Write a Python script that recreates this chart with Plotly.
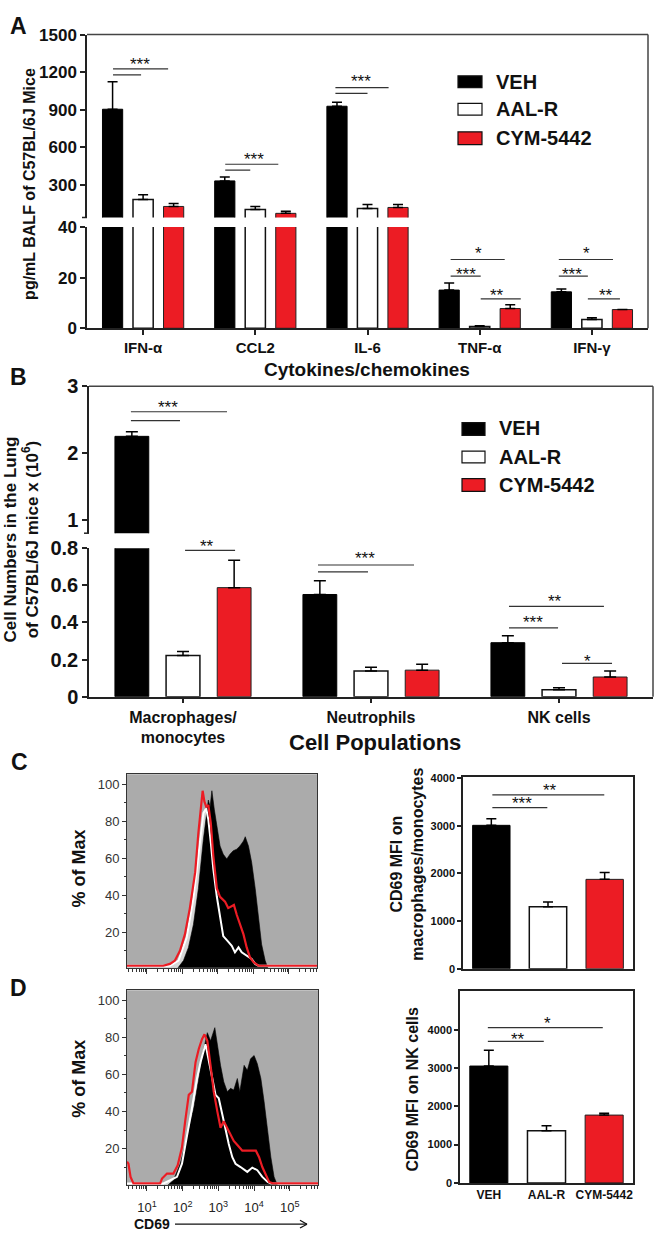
import plotly.graph_objects as go

W, H = 658, 1244
FONT = "Liberation Sans, Arial, Helvetica, sans-serif"

# ---------------- data ----------------
groups = ["VEH", "AAL-R", "CYM-5442"]

# Panel A: cytokines (pg/mL BALF)
cyto_labels = ["IFN-α", "CCL2", "IL-6", "TNF-α", "IFN-γ"]
cyto_veh = [904, 332, 928, 15.1, 14.4]
cyto_veh_sem = [220, 31, 31, 2.8, 1.1]
cyto_aal = [183, 104, 112, 0.7, 3.5]
cyto_aal_sem = [39, 24, 31, 0.3, 0.7]
cyto_cym = [128, 73, 120, 7.8, 7.4]
cyto_cym_sem = [23, 16, 23, 1.5, 0.0]

# Panel B: cell numbers (x10^6)
cell_labels = ["Macrophages/<br>monocytes", "Neutrophils", "NK cells"]
cell_veh = [2.25, 0.551, 0.291]
cell_veh_sem = [0.07, 0.074, 0.037]
cell_aal = [0.222, 0.138, 0.037]
cell_aal_sem = [0.022, 0.021, 0.011]
cell_cym = [0.588, 0.143, 0.106]
cell_cym_sem = [0.148, 0.032, 0.032]

# Panel C/D bar charts: CD69 MFI
mfi_mac = [3010, 1300, 1876]
mfi_mac_sem = [140, 100, 144]
mfi_nk = [3050, 1360, 1770]
mfi_nk_sem = [410, 130, 50]

# Panel C histogram (macrophages/monocytes): log10 CD69 vs % of max
c_veh_log = [0.44, 1.84, 2.03, 2.17, 2.31, 2.45, 2.59, 2.67, 2.73, 2.78, 2.83, 2.90, 2.98, 3.06, 3.15,
             3.25, 3.34, 3.43, 3.53, 3.62, 3.72, 3.77, 3.86, 3.95, 4.05, 4.14, 4.23, 4.33, 4.42, 5.79]
c_veh_pct = [0, 0, 4.8, 11.9, 24.2, 43.7, 70.2, 80.8, 91.4, 87.8, 96.4, 86.1, 76.3, 66.6, 62.2,
             59.6, 62.2, 64.0, 64.9, 66.6, 69.3, 71.6, 66.6, 57.8, 43.7, 27.8, 13.6, 4.8, 0, 0]
c_aal_log = [0.44, 1.65, 1.89, 2.12, 2.31, 2.50, 2.59, 2.67, 2.73, 2.80, 2.87, 2.97, 3.06, 3.15,
             3.27, 3.39, 3.48, 3.58, 3.67, 3.81, 3.95, 4.05, 4.14, 5.79]
c_aal_pct = [2, 2, 4.8, 17.2, 38.4, 70.2, 84.3, 86.9, 80.8, 68.4, 54.3, 39.2, 27.8, 18.0,
             15.4, 12.7, 9.2, 11.9, 9.2, 7.5, 5.7, 3.0, 2, 2]
c_cym_log = [0.44, 1.46, 1.65, 1.79, 1.93, 2.07, 2.21, 2.36, 2.45, 2.52, 2.57, 2.62, 2.67, 2.73, 2.80,
             2.87, 2.97, 3.06, 3.20, 3.29, 3.39, 3.45, 3.53, 3.62, 3.72, 3.81, 3.90, 4.00, 4.14, 5.79]
c_cym_pct = [2, 2, 3.0, 4.8, 10.1, 18.9, 33.1, 52.5, 73.7, 89.6, 96.4, 90.5, 87.8, 88.7, 79.0,
             61.3, 43.7, 39.2, 36.6, 33.1, 33.9, 34.8, 29.5, 24.2, 18.9, 11.9, 6.6, 4.0, 2, 2]

# Panel D histogram (NK cells)
d_veh_log = [0.44, 1.56, 1.74, 1.93, 2.12, 2.31, 2.45, 2.59, 2.69, 2.78, 2.90, 2.97, 3.06, 3.15, 3.25, 3.34,
             3.43, 3.53, 3.60, 3.72, 3.81, 3.90, 4.00, 4.09, 4.19, 4.28, 4.38, 4.47, 4.56, 4.66, 5.79]
d_veh_pct = [0, 0, 3.0, 11.9, 26.0, 41.9, 57.8, 73.7, 82.5, 78.1, 85.2, 75.5, 64.9, 56.0, 50.7, 52.5,
             51.6, 57.8, 50.7, 64.9, 62.2, 68.4, 70.2, 65.8, 57.8, 45.4, 29.5, 15.4, 4.8, 0, 0]
d_aal_log = [0.44, 1.46, 1.65, 1.84, 1.98, 2.12, 2.26, 2.40, 2.50, 2.64, 2.73, 2.83, 2.92, 3.01,
             3.11, 3.20, 3.29, 3.39, 3.48, 3.62, 3.81, 3.95, 4.09, 4.23, 4.38, 4.47, 5.79]
d_aal_pct = [1.3, 1.3, 3.0, 4.8, 11.9, 26.0, 41.9, 57.8, 66.6, 76.3, 68.4, 57.8, 49.0, 47.2,
             38.4, 29.5, 22.5, 15.4, 11.9, 10.1, 7.5, 9.8, 8.4, 4.8, 2.1, 1.3, 1.3]
d_cym_log = [0.44, 0.48, 0.54, 0.62, 1.37, 1.42, 1.56, 1.74, 1.86, 1.98, 2.07, 2.17, 2.26, 2.36, 2.45,
             2.54, 2.61, 2.69, 2.78, 2.87, 2.97, 3.06, 3.15, 3.25, 3.34, 3.43, 3.55, 3.67, 4.05, 4.14,
             4.23, 4.33, 4.42, 4.52, 5.79]
d_cym_pct = [13, 11.9, 4.8, 1.3, 1.3, 3.9, 6.6, 6.6, 11.0, 20.7, 34.8, 49.0, 50.7, 66.6, 73.7,
             79.0, 81.6, 78.1, 64.9, 50.7, 40.1, 31.3, 34.8, 31.3, 27.8, 24.2, 21.6, 18.9, 18.9, 15.4,
             10.1, 5.7, 2.1, 1.3, 1.3]

hist_ticks = [10, 100, 1000, 10000, 100000]
hist_ticktext = ["10<sup>1</sup>", "10<sup>2</sup>", "10<sup>3</sup>", "10<sup>4</sup>", "10<sup>5</sup>"]

# ---------------- style ----------------
FILL = ["#000000", "#ffffff", "#ec1c24"]
EDGE = ["#000000", "#111111", "#222222"]
EW = [1, 1.5, 1]
OFF = [-0.272, 0.0, 0.272]
AX = "#222222"
RED = "#ec1c24"
GRAYBG = "#ababab"


def px(x):
    return x / W


def py(y):
    return 1 - y / H


fig = go.Figure()


def add_group_bars(xa, ya, n, series, width, err_w):
    for k, (vals, sems) in enumerate(series):
        fig.add_trace(go.Bar(
            x=[i + OFF[k] for i in range(n)], y=vals, width=width,
            xaxis=xa, yaxis=ya,
            marker=dict(color=FILL[k], line=dict(color=EDGE[k], width=EW[k])),
            error_y=dict(type="data", symmetric=False, array=sems, arrayminus=[0] * n,
                         color="#000", thickness=1.5, width=err_w),
            showlegend=False, hoverinfo="skip"))


# Panel A (lower and upper segments)
seriesA = [(cyto_veh, cyto_veh_sem), (cyto_aal, cyto_aal_sem), (cyto_cym, cyto_cym_sem)]
add_group_bars("x", "y", len(cyto_labels), seriesA, 0.18, 5)
add_group_bars("x", "y2", len(cyto_labels), seriesA, 0.18, 5)

# Panel B
seriesB = [(cell_veh, cell_veh_sem), (cell_aal, cell_aal_sem), (cell_cym, cell_cym_sem)]
add_group_bars("x2", "y3", len(cell_labels), seriesB, 0.18, 6)
add_group_bars("x2", "y4", len(cell_labels), seriesB, 0.18, 6)


def add_mfi(xa, ya, vals, sems):
    for k in range(3):
        fig.add_trace(go.Bar(
            x=[k], y=[vals[k]], width=0.66, xaxis=xa, yaxis=ya,
            marker=dict(color=FILL[k], line=dict(color=EDGE[k], width=EW[k])),
            error_y=dict(type="data", symmetric=False, array=[sems[k]], arrayminus=[0],
                         color="#000", thickness=1.5, width=5),
            showlegend=False, hoverinfo="skip"))


add_mfi("x4", "y6", mfi_mac, mfi_mac_sem)
add_mfi("x6", "y8", mfi_nk, mfi_nk_sem)


def add_hist(xa, ya, veh_l, veh_p, aal_l, aal_p, cym_l, cym_p):
    aal_x = [10 ** v for v in aal_l]
    fig.add_trace(go.Scatter(x=aal_x, y=aal_p, xaxis=xa, yaxis=ya, mode="lines",
                             fill="tozeroy", fillcolor="#d6d6d6", line=dict(width=0, color="#d6d6d6"),
                             showlegend=False, hoverinfo="skip"))
    fig.add_trace(go.Scatter(x=[10 ** v for v in veh_l], y=veh_p, xaxis=xa, yaxis=ya, mode="lines",
                             fill="tozeroy", fillcolor="#000000", line=dict(width=0.6, color="#000000"),
                             showlegend=False, hoverinfo="skip"))
    fig.add_trace(go.Scatter(x=aal_x, y=aal_p, xaxis=xa, yaxis=ya, mode="lines",
                             line=dict(width=2, color="#ffffff"), showlegend=False, hoverinfo="skip"))
    fig.add_trace(go.Scatter(x=[10 ** v for v in cym_l], y=cym_p, xaxis=xa, yaxis=ya, mode="lines",
                             line=dict(width=2.2, color=RED), showlegend=False, hoverinfo="skip"))


add_hist("x3", "y5", c_veh_log, c_veh_pct, c_aal_log, c_aal_pct, c_cym_log, c_cym_pct)
add_hist("x5", "y7", d_veh_log, d_veh_pct, d_aal_log, d_aal_pct, d_cym_log, d_cym_pct)

# ---------------- axes ----------------
def tf(size, bold=True, color="#111111"):
    d = dict(family=FONT, size=size, color=color)
    if bold:
        d["weight"] = "bold"
    return d


base_ax = dict(showgrid=False, zeroline=False, showline=True, linecolor=AX, linewidth=1.5,
               ticks="outside", tickcolor=AX, tickwidth=1.5, ticklen=5)
minor_log = [k * 10 ** d for d in range(0, 6) for k in range(2, 10)]

layout_axes = dict(
    xaxis=dict(base_ax, domain=[px(87), px(648)], range=[-0.5, 4.5], anchor="y",
               tickmode="array", tickvals=list(range(len(cyto_labels))), ticktext=cyto_labels,
               tickfont=tf(15)),
    yaxis=dict(base_ax, domain=[py(323), py(220)], range=[0, 40], anchor="x",
               tickmode="array", tickvals=[0, 20, 40], tickfont=tf(17)),
    yaxis2=dict(base_ax, domain=[py(210.2), py(24)], range=[40, 1500], anchor="x",
                tickmode="array", tickvals=[300, 600, 900, 1200, 1500], tickfont=tf(17)),
    xaxis2=dict(base_ax, domain=[px(89), px(653)], range=[-0.5, 2.5], anchor="y3",
                tickmode="array", tickvals=list(range(len(cell_labels))), ticktext=cell_labels,
                tickfont=tf(16)),
    yaxis3=dict(base_ax, domain=[py(698), py(547)], range=[0, 0.8], anchor="x2",
                tickmode="array", tickvals=[0, 0.2, 0.4, 0.6, 0.8],
                ticktext=["0", "0.2", "0.4", "0.6", "0.8"], tickfont=tf(20)),
    yaxis4=dict(base_ax, domain=[py(531.6), py(382)], range=[0.8, 3], anchor="x2",
                tickmode="array", tickvals=[1, 2, 3], tickfont=tf(20)),
    xaxis3=dict(showgrid=False, zeroline=False, showline=True, linecolor="#333", linewidth=1,
                mirror=True, type="log", range=[0.44, 5.79], anchor="y5",
                domain=[px(127), px(317)], ticks="outside", ticklen=5, tickwidth=1, tickcolor="#333",
                tickmode="array", tickvals=hist_ticks, showticklabels=False,
                minor=dict(ticks="outside", ticklen=3, tickwidth=1, tickcolor="#333",
                           tickmode="array", tickvals=minor_log)),
    yaxis5=dict(showgrid=False, zeroline=False, showline=True, linecolor="#333", linewidth=1,
                mirror=True, range=[0.9, 105.3], anchor="x3", domain=[py(974), py(777)],
                ticks="outside", ticklen=4, tickwidth=1, tickcolor="#333",
                tickmode="array", tickvals=[20, 40, 60, 80, 100], tickfont=tf(13, False, "#333"),
                minor=dict(ticks="outside", ticklen=2, tickwidth=1, tickcolor="#333", dtick=10)),
    xaxis4=dict(showgrid=False, zeroline=False, showline=True, linecolor=AX, linewidth=1.5,
                mirror=True, range=[-0.5, 2.5], anchor="y6", domain=[px(463), px(633)],
                ticks="", showticklabels=False),
    yaxis6=dict(base_ax, mirror=True, range=[0, 4020], anchor="x4", domain=[py(975), py(780)],
                ticklen=4, tickmode="array", tickvals=[0, 1000, 2000, 3000, 4000], tickfont=tf(11)),
    xaxis5=dict(showgrid=False, zeroline=False, showline=True, linecolor="#333", linewidth=1,
                mirror=True, type="log", range=[0.44, 5.79], anchor="y7",
                domain=[px(127), px(318)], ticks="outside", ticklen=5, tickwidth=1, tickcolor="#333",
                tickmode="array", tickvals=hist_ticks, ticktext=hist_ticktext,
                tickfont=tf(13, False, "#222"), ticklabelstandoff=6,
                minor=dict(ticks="outside", ticklen=3, tickwidth=1, tickcolor="#333",
                           tickmode="array", tickvals=minor_log)),
    yaxis7=dict(showgrid=False, zeroline=False, showline=True, linecolor="#333", linewidth=1,
                mirror=True, range=[0.5, 105.3], anchor="x5", domain=[py(1195), py(997)],
                ticks="outside", ticklen=4, tickwidth=1, tickcolor="#333",
                tickmode="array", tickvals=[20, 40, 60, 80, 100], tickfont=tf(13, False, "#333"),
                minor=dict(ticks="outside", ticklen=2, tickwidth=1, tickcolor="#333", dtick=10)),
    xaxis6=dict(showgrid=False, zeroline=False, showline=True, linecolor=AX, linewidth=1.5,
                mirror=True, range=[-0.5, 2.5], anchor="y8", domain=[px(460), px(633)],
                ticks="", tickmode="array", tickvals=[0, 1, 2], ticktext=groups, tickfont=tf(12)),
    yaxis8=dict(base_ax, mirror=True, range=[0, 5000], anchor="x6", domain=[py(1193), py(998)],
                ticklen=4, tickmode="array", tickvals=[0, 1000, 2000, 3000, 4000], tickfont=tf(11)),
)

shapes = []
annotations = []


def pline(x0, y0, x1, y1, color="#222", width=1.5):
    shapes.append(dict(type="line", xref="paper", yref="paper", x0=px(x0), x1=px(x1), y0=py(y0), y1=py(y1),
                       line=dict(color=color, width=width)))


# gray histogram backgrounds
for xr, yr in (("x3", "y5"), ("x5", "y7")):
    shapes.append(dict(type="rect", xref=xr + " domain", yref=yr + " domain", x0=0, x1=1, y0=0, y1=1,
                       fillcolor=GRAYBG, line=dict(width=0), layer="below"))

# frame lines (top/right) for A and B
for (x0, x1, yt, yb) in ((87, 648, 24, 323), (89, 653, 382, 698)):
    pline(x0, yt, x1, yt, "#444")
    pline(x1, yt, x1, yb, "#444")

# end ticks of the broken axis segments
pline(82, 210.2, 87, 210.2)
pline(84, 531.6, 89, 531.6)


def bracket(xr, yr, x0, x1, y):
    shapes.append(dict(type="line", xref=xr, yref=yr, x0=x0, x1=x1, y0=y, y1=y,
                       line=dict(color="#333", width=1.2)))


def star(xr, yr, x, y, t, shift=-4):
    annotations.append(dict(xref=xr, yref=yr, x=x, y=y, text=t, showarrow=False,
                            font=dict(family=FONT, size=17, color="#111"), yshift=shift))


# Panel A brackets
bracket("x", "y2", -0.268, -0.018, 1178); bracket("x", "y2", -0.268, 0.223, 1226); star("x", "y2", -0.027, 1296, "***")
bracket("x", "y2", 0.732, 0.955, 418); bracket("x", "y2", 0.732, 1.205, 465); star("x", "y2", 0.991, 535, "***")
bracket("x", "y2", 1.714, 2.0, 1030); bracket("x", "y2", 1.714, 2.188, 1077); star("x", "y2", 1.946, 1155, "***")
bracket("x", "y", 2.741, 3.223, 27.2); star("x", "y", 2.991, 31.1, "*")
bracket("x", "y", 2.741, 3.009, 20.6); star("x", "y", 2.875, 22.9, "***")
bracket("x", "y", 3.009, 3.366, 11.65); star("x", "y", 3.152, 14.4, "**")
bracket("x", "y", 3.705, 4.188, 27.2); star("x", "y", 3.955, 31.1, "*")
bracket("x", "y", 3.705, 3.964, 20.6); star("x", "y", 3.821, 22.9, "***")
bracket("x", "y", 3.964, 4.25, 11.65); star("x", "y", 4.125, 14.4, "**")

# Panel B brackets
bracket("x2", "y4", -0.277, -0.016, 2.485); bracket("x2", "y4", -0.277, 0.234, 2.618); star("x2", "y4", -0.08, 2.735, "***")
bracket("x2", "y3", 0.011, 0.277, 0.789); star("x2", "y3", 0.128, 0.789, "**", shift=4)
bracket("x2", "y3", 0.718, 0.984, 0.673); bracket("x2", "y3", 0.718, 1.229, 0.710); star("x2", "y3", 0.968, 0.768, "***")
bracket("x2", "y3", 1.734, 2.239, 0.487); star("x2", "y3", 1.979, 0.535, "**")
bracket("x2", "y3", 1.734, 1.995, 0.371); star("x2", "y3", 1.862, 0.419, "***")
bracket("x2", "y3", 2.016, 2.282, 0.180); star("x2", "y3", 2.154, 0.212, "*")

# Panel C / D bar brackets
bracket("x4", "y6", 0.018, 0.988, 3381); star("x4", "y6", 0.547, 3546, "***")
bracket("x4", "y6", 0.018, 1.993, 3649); star("x4", "y6", 1.04, 3835, "**")
bracket("x6", "y8", -0.017, 0.953, 3692); star("x6", "y8", 0.503, 3846, "**")
bracket("x6", "y8", -0.017, 1.976, 4051); star("x6", "y8", 1.023, 4256, "*")

# Legends (A and B)
for (bx0, bx1, tx, rows) in ((458, 482, 494, ((66, 78, 72), (94, 106, 100), (123, 136, 129))),
                             (462, 485, 497, ((419, 432, 425), (448, 460, 454), (476, 489, 483)))):
    for k, (y0, y1, yc) in enumerate(rows):
        shapes.append(dict(type="rect", xref="paper", yref="paper", x0=px(bx0), x1=px(bx1), y0=py(y1), y1=py(y0),
                           fillcolor=FILL[k], line=dict(color="#111", width=1.2)))
        annotations.append(dict(xref="paper", yref="paper", x=px(tx), y=py(yc), xanchor="left", yanchor="middle",
                                text=groups[k], showarrow=False, font=tf(20)))


def txt(x, y, t, size, angle=0, bold=True, anchor="center", color="#111"):
    annotations.append(dict(xref="paper", yref="paper", x=px(x), y=py(y), text=t, showarrow=False,
                            xanchor=anchor, yanchor="middle", textangle=angle,
                            font=tf(size, bold, color)))


# panel letters
txt(18, 15, "A", 23)
txt(18, 373, "B", 23)
txt(19, 765, "C", 23)
txt(18, 995, "D", 23)

# axis titles
txt(30, 176, "pg/mL BALF of C57BL/6J Mice", 16, angle=-90)
txt(367, 365, "Cytokines/chemokines", 19)
txt(21, 538, "Cell Numbers in the Lung<br>of C57BL/6J mice x (10<sup>6</sup>)", 17, angle=-90)
txt(375, 745, "Cell Populations", 22)
txt(79, 873, "% of Max", 18, angle=-90)
txt(79, 1087, "% of Max", 18, angle=-90)
txt(407, 869, "CD69 MFI on<br>macrophages/monocytes", 16, angle=-90)
txt(413, 1098, "CD69 MFI on NK cells", 16, angle=-90)
txt(132, 1235, "CD69", 14, anchor="left")

# CD69 arrow (shaft + open chevron head)
pline(175, 1235, 307, 1235, "#111", 1.2)
pline(300, 1231, 307, 1235, "#111", 1.2)
pline(300, 1239, 307, 1235, "#111", 1.2)

fig.update_layout(
    width=W, height=H, margin=dict(l=0, r=0, t=0, b=0),
    paper_bgcolor="white", plot_bgcolor="rgba(0,0,0,0)",
    barmode="overlay", showlegend=False,
    font=dict(family=FONT, color="#111"),
    shapes=shapes, annotations=annotations,
    **layout_axes,
)

fig.write_html("out.html", config={"displayModeBar": False},
               post_script="document.body.style.margin='0';document.body.style.padding='0';")
